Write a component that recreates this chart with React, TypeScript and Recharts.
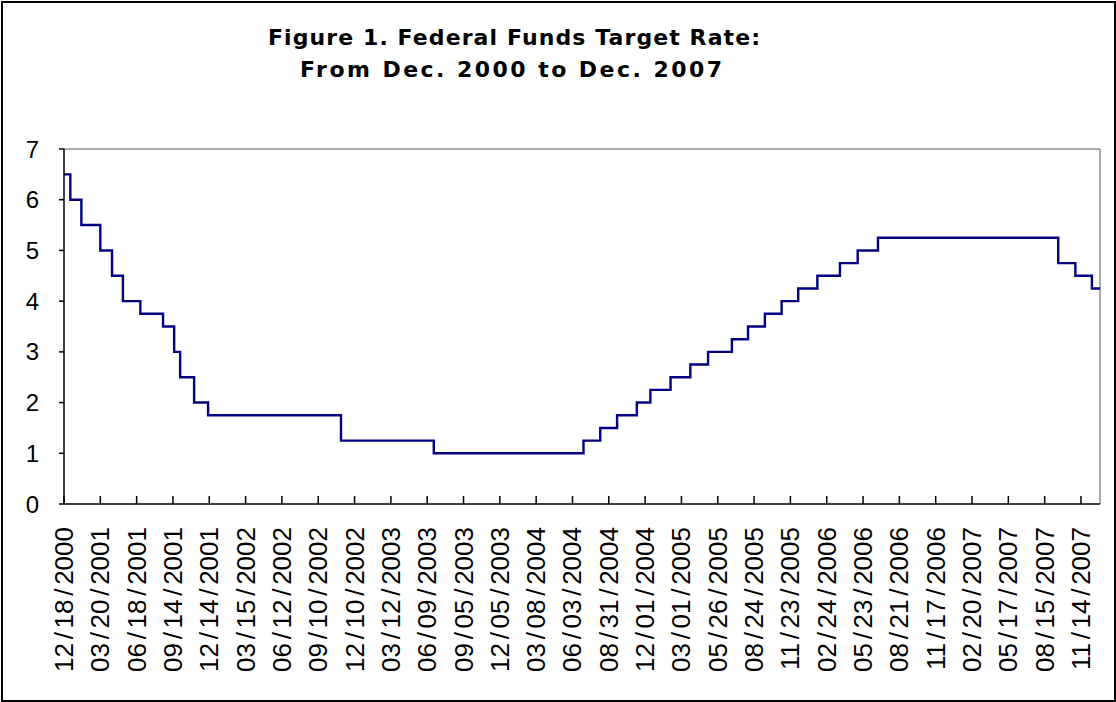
import { LineChart, Line, XAxis, YAxis, ReferenceLine } from "recharts";

// labelled dates on the category axis (every 63 trading days)
const tickDates = [
  "12/18/2000", "03/20/2001", "06/18/2001", "09/14/2001", "12/14/2001",
  "03/15/2002", "06/12/2002", "09/10/2002", "12/10/2002", "03/12/2003",
  "06/09/2003", "09/05/2003", "12/05/2003", "03/08/2004", "06/03/2004",
  "08/31/2004", "12/01/2004", "03/01/2005", "05/26/2005", "08/24/2005",
  "11/23/2005", "02/24/2006", "05/23/2006", "08/21/2006", "11/17/2006",
  "02/20/2007", "05/17/2007", "08/15/2007", "11/14/2007",
];
const lastDate = "12/31/2007";
const DAYS_PER_TICK = 63;
const TAIL_DAYS = 33; // trading days after the last label

// dates the target changed, and the new target (%)
const changeDates = [
  "12/18/2000", "01/03/2001", "01/31/2001", "03/20/2001", "04/18/2001",
  "05/15/2001", "06/27/2001", "08/21/2001", "09/17/2001", "10/02/2001",
  "11/06/2001", "12/11/2001", "11/06/2002", "06/25/2003", "06/30/2004",
  "08/10/2004", "09/21/2004", "11/10/2004", "12/14/2004", "02/02/2005",
  "03/22/2005", "05/03/2005", "06/30/2005", "08/09/2005", "09/20/2005",
  "11/01/2005", "12/13/2005", "01/31/2006", "03/28/2006", "05/10/2006",
  "06/29/2006", "09/18/2007", "10/31/2007", "12/11/2007",
];
const targetRates = [
  6.5, 6.0, 5.5, 5.0, 4.5, 4.0, 3.75, 3.5, 3.0, 2.5, 2.0, 1.75, 1.25, 1.0,
  1.25, 1.5, 1.75, 2.0, 2.25, 2.5, 2.75, 3.0, 3.25, 3.5, 3.75, 4.0, 4.25,
  4.5, 4.75, 5.0, 5.25, 4.75, 4.5, 4.25,
];
const yTicks = [0, 1, 2, 3, 4, 5, 6, 7];

const parseDate = (s: string) => {
  const [m, d, y] = s.split("/").map(Number);
  return Date.UTC(y, m - 1, d);
};

const anchorTimes = [...tickDates, lastDate].map(parseDate);
const anchorIdx = [
  ...tickDates.map((_, i) => i * DAYS_PER_TICK),
  (tickDates.length - 1) * DAYS_PER_TICK + TAIL_DAYS,
];
const maxIdx = anchorIdx[anchorIdx.length - 1];

// position on the trading-day axis, between the labelled dates
function dayIndex(s: string): number {
  const t = parseDate(s);
  for (let k = 0; k < anchorTimes.length - 1; k++) {
    if (t <= anchorTimes[k + 1]) {
      const f = (t - anchorTimes[k]) / (anchorTimes[k + 1] - anchorTimes[k]);
      return anchorIdx[k] + f * (anchorIdx[k + 1] - anchorIdx[k]);
    }
  }
  return maxIdx;
}

const data = [
  ...changeDates.map((d, i) => ({ x: dayIndex(d), rate: targetRates[i] })),
  { x: maxIdx, rate: targetRates[targetRates.length - 1] },
];
const xTicks = tickDates.map((_, i) => i * DAYS_PER_TICK);

const FONT = "'Liberation Sans', Arial, sans-serif";
const TITLE_FONT = "'DejaVu Sans', sans-serif";

function DateTick({ x, y, payload }: any) {
  const label = tickDates[Math.round(payload.value / DAYS_PER_TICK)] || "";
  const [m, d, yr] = label.split("/");
  const gap = 3.7;
  return (
    <g>
      <line x1={x} x2={x} y1={y} y2={y - 8} stroke="#000" strokeWidth={1.5} />
      <text
        transform={`translate(${x + 9},${y + 23}) rotate(-90)`}
        textAnchor="end"
        fontSize={26}
        fontFamily={FONT}
        fill="#000"
      >
        {m}
        <tspan dx={gap}>/</tspan>
        <tspan dx={gap}>{d}</tspan>
        <tspan dx={gap}>/</tspan>
        <tspan dx={gap}>{yr}</tspan>
      </text>
    </g>
  );
}

export default function App() {
  return (
    <div style={{ position: "absolute", left: 0, top: 0, width: 1116, height: 702, background: "#fff" }}>
      <LineChart
        width={1116}
        height={702}
        data={data}
        margin={{ top: 149, right: 16, left: 4, bottom: 8 }}
      >
        <XAxis
          type="number"
          dataKey="x"
          domain={[0, maxIdx]}
          ticks={xTicks}
          interval={0}
          allowDataOverflow
          height={190}
          tickSize={0}
          tickMargin={0}
          tickLine={false}
          axisLine={{ stroke: "#000", strokeWidth: 1.5 }}
          tick={<DateTick />}
        />
        <YAxis
          type="number"
          domain={[0, 7]}
          ticks={yTicks}
          interval={0}
          width={60}
          tickSize={5}
          tickMargin={20}
          tickLine={{ stroke: "#000", strokeWidth: 1.5 }}
          axisLine={{ stroke: "#000", strokeWidth: 1.5 }}
          tick={{ fill: "#000", fontSize: 24, fontFamily: FONT }}
        />
        <ReferenceLine y={7} stroke="#8c8c8c" strokeWidth={1.5} />
        <ReferenceLine x={maxIdx} stroke="#8c8c8c" strokeWidth={1.5} />
        <Line
          type="stepAfter"
          dataKey="rate"
          stroke="#000080"
          strokeWidth={2.4}
          dot={false}
          isAnimationActive={false}
        />
      </LineChart>
      <svg
        width={1116}
        height={110}
        style={{ position: "absolute", left: 0, top: 0, pointerEvents: "none" }}
      >
        <text x={514} y={45} textAnchor="middle" fontSize={22} fontWeight="bold" fontFamily={TITLE_FONT}
          textLength={492} lengthAdjust="spacing" fill="#000">
          Figure 1. Federal Funds Target Rate:
        </text>
        <text x={511} y={77} textAnchor="middle" fontSize={22} fontWeight="bold" fontFamily={TITLE_FONT}
          textLength={422} lengthAdjust="spacing" fill="#000">
          From Dec. 2000 to Dec. 2007
        </text>
      </svg>
      <div
        style={{
          position: "absolute",
          left: 1,
          top: 1,
          width: 1115,
          height: 701,
          border: "2px solid #000",
          boxSizing: "border-box",
          pointerEvents: "none",
        }}
      />
    </div>
  );
}
